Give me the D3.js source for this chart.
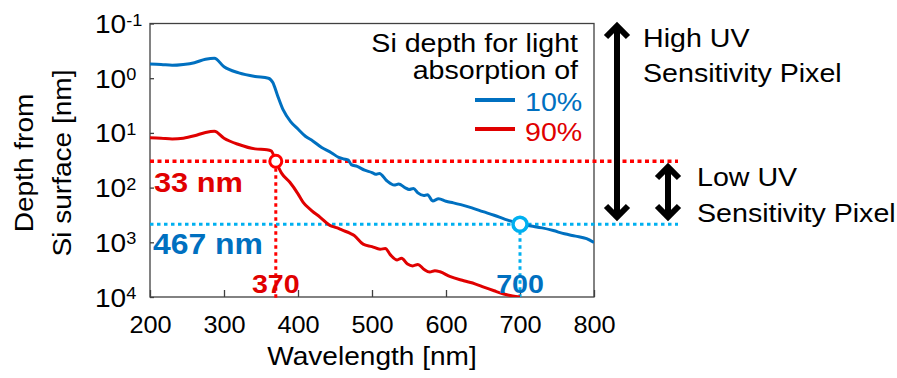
<!DOCTYPE html>
<html>
<head>
<meta charset="utf-8">
<script src="https://cdn.jsdelivr.net/npm/d3@7"></script>
<style>
  body { margin: 0; background: #fff; }
  text { font-family: Arial, "Liberation Sans", sans-serif; }
</style>
</head>
<body>
<div id="chart"></div>
<script>
// wavelength [nm] and depth [nm]
var wl10 = [200, 215, 230, 245, 260, 275, 287, 300, 320, 342, 360, 366, 372, 380, 390, 400, 410, 420, 432, 445, 455, 462, 468, 472, 480, 490, 500, 505, 510, 520, 530, 536, 545, 550, 556, 562, 570, 575, 582, 590, 600, 610, 620, 635, 650, 665, 680, 690, 700, 715, 730, 745, 760, 775, 790, 800];
var depth10 = [0.55, 0.56, 0.58, 0.56, 0.52, 0.45, 0.43, 0.62, 0.80, 0.93, 1.0, 1.2, 2.0, 3.8, 6.2, 8.5, 11.5, 14, 18.5, 23, 28, 30, 31.5, 38, 41, 48, 53, 57, 55, 75, 90, 86, 101, 108, 104, 125, 140, 135, 175, 160, 178, 190, 205, 235, 275, 320, 380, 420, 467, 505, 545, 610, 700, 770, 860, 1010];

var wl90 = [200, 215, 230, 245, 260, 275, 287, 300, 320, 342, 358, 364, 370, 378, 389, 400, 407, 418, 430, 443, 452, 460, 470, 476, 488, 500, 511, 518, 525, 534, 540, 548, 555, 562, 570, 578, 585, 592, 605, 624, 640, 651, 665, 678, 690, 700];
var depth90 = [12.3, 12.5, 12.9, 12.5, 11.3, 9.8, 9.3, 12.5, 16.3, 19.6, 20.3, 21.5, 33, 55, 80, 130, 186, 260, 349, 490, 540, 600, 680, 750, 1080, 1200, 1340, 1300, 1700, 2100, 1950, 2500, 2700, 2550, 3100, 3500, 3300, 3460, 4200, 5050, 5800, 6600, 7700, 8800, 9600, 10000];

var xTicks = [200, 300, 400, 500, 600, 700, 800];
var yTicks = [0.1, 1, 10, 100, 1000, 10000];
var yExp = ["-1", "0", "1", "2", "3", "4"];

var legendNames = ["10%", "90%"];
var marks = [{ wl: 370, depth: 33, label: "33 nm", tick: "370" },
             { wl: 700, depth: 467, label: "467 nm", tick: "700" }];

var width = 897, height = 378;
var pL = 150, pR = 594, pT = 23.5, pB = 297;
var SX = 1.1; // the original type is a little wide
var blue = "#0070C0", red = "#E00000", redDot = "#FF0000", blueDot = "#00B0F0";

var x = d3.scaleLinear().domain([200, 800]).range([pL, pR]);
var y = d3.scaleLog().domain([0.1, 10000]).range([pT, pB]);

var svg = d3.select("#chart").append("svg")
    .attr("width", width).attr("height", height);

function txt(px, py, s, size, fill, opts) {
    opts = opts || {};
    return svg.append("text")
        .attr("transform", `translate(${px},${py}) ${opts.rot ? "rotate(-90) " : ""}scale(${SX},1)`)
        .attr("text-anchor", opts.anchor || "start")
        .attr("font-weight", opts.bold ? "bold" : "normal")
        .style("font-size", size + "px")
        .attr("fill", fill || "#000")
        .text(s);
}

svg.append("defs").append("clipPath").attr("id", "clip")
    .append("rect").attr("x", pL).attr("y", pT)
    .attr("width", pR - pL).attr("height", pB - pT);

// axes
var xAxis = svg.append("g")
    .attr("transform", `translate(0,${pB})`)
    .call(d3.axisBottom(x).tickValues(xTicks).tickSize(-7).tickPadding(20));
xAxis.selectAll(".tick text")
    .style("font-size", "23px")
    .attr("fill", "#000")
    .attr("transform", `scale(${SX},1)`);

var yAxis = svg.append("g")
    .attr("transform", `translate(${pL},0)`)
    .call(d3.axisLeft(y).tickValues(yTicks).tickSize(-4));
yAxis.selectAll(".tick text").each(function (d, i) {
    var t = d3.select(this);
    t.text(null).attr("x", 0).attr("y", 0).attr("dy", null)
        .attr("text-anchor", "start")
        .attr("fill", "#000")
        .attr("transform", `translate(-55,9) scale(${SX},1)`);
    t.append("tspan").style("font-size", "25.5px").text("10");
    t.append("tspan").style("font-size", "16.5px").attr("dy", -7.5).text(yExp[i]);
});
svg.selectAll(".domain").remove();
svg.selectAll(".tick line").attr("stroke", "#404040").attr("stroke-width", 1.3);

svg.append("rect")
    .attr("x", pL).attr("y", pT)
    .attr("width", pR - pL).attr("height", pB - pT)
    .attr("fill", "none").attr("stroke", "#404040").attr("stroke-width", 1.3);

// guide lines
var dotEnd = 678;
svg.append("line")
    .attr("x1", pL).attr("x2", dotEnd)
    .attr("y1", y(marks[0].depth)).attr("y2", y(marks[0].depth))
    .attr("stroke", redDot).attr("stroke-width", 3.5).attr("stroke-dasharray", "4,3.5");
svg.append("line")
    .attr("x1", x(marks[0].wl)).attr("x2", x(marks[0].wl))
    .attr("y1", y(marks[0].depth)).attr("y2", pB + 1)
    .attr("stroke", redDot).attr("stroke-width", 3).attr("stroke-dasharray", "3.5,3.5");
svg.append("line")
    .attr("x1", pL).attr("x2", dotEnd)
    .attr("y1", y(marks[1].depth)).attr("y2", y(marks[1].depth))
    .attr("stroke", blueDot).attr("stroke-width", 3).attr("stroke-dasharray", "3.5,3.5");
svg.append("line")
    .attr("x1", x(marks[1].wl)).attr("x2", x(marks[1].wl))
    .attr("y1", y(marks[1].depth)).attr("y2", pB)
    .attr("stroke", blueDot).attr("stroke-width", 3).attr("stroke-dasharray", "3.5,3.5");

// curves
var line = d3.line().x(d => x(d[0])).y(d => y(d[1])).curve(d3.curveMonotoneX);
var plot = svg.append("g").attr("clip-path", "url(#clip)");
plot.append("path").datum(d3.zip(wl10, depth10))
    .attr("d", line).attr("fill", "none").attr("stroke", blue).attr("stroke-width", 3);
plot.append("path").datum(d3.zip(wl90, depth90))
    .attr("d", line).attr("fill", "none").attr("stroke", red).attr("stroke-width", 3);

// markers
svg.append("circle").attr("cx", x(marks[0].wl)).attr("cy", y(marks[0].depth)).attr("r", 6)
    .attr("fill", "#fff").attr("stroke", redDot).attr("stroke-width", 3);
svg.append("circle").attr("cx", x(marks[1].wl)).attr("cy", y(marks[1].depth)).attr("r", 7)
    .attr("fill", "#fff").attr("stroke", blueDot).attr("stroke-width", 3.5);

// annotations
txt(154, 192, marks[0].label, 28, red, { bold: true });
txt(153, 254, marks[1].label, 29, blue, { bold: true });
txt(x(marks[0].wl), 293, marks[0].tick, 26, red, { bold: true, anchor: "middle" });
txt(x(marks[1].wl), 293, marks[1].tick, 26, blue, { bold: true, anchor: "middle" });

// legend
txt(578, 52, "Si depth for light", 26, "#000", { anchor: "end" });
txt(578, 79, "absorption of", 26, "#000", { anchor: "end" });
svg.append("line").attr("x1", 475).attr("x2", 515).attr("y1", 100).attr("y2", 100)
    .attr("stroke", blue).attr("stroke-width", 4);
svg.append("line").attr("x1", 475).attr("x2", 515).attr("y1", 129).attr("y2", 129)
    .attr("stroke", red).attr("stroke-width", 4);
txt(525, 111, legendNames[0], 26, blue);
txt(525, 141, legendNames[1], 26, red);

// arrows on the right
function dblArrow(ax, y1, y2) {
    var g = svg.append("g").attr("fill", "none").attr("stroke", "#000")
        .attr("stroke-width", 6).attr("stroke-linejoin", "miter");
    g.append("line").attr("x1", ax).attr("x2", ax).attr("y1", y1 + 3).attr("y2", y2 - 3);
    g.append("polyline").attr("points", `${ax - 11},${y1 + 15} ${ax},${y1 + 4} ${ax + 11},${y1 + 15}`);
    g.append("polyline").attr("points", `${ax - 11},${y2 - 15} ${ax},${y2 - 4} ${ax + 11},${y2 - 15}`);
}
dblArrow(617, 22, 221);
dblArrow(668, 163, 221);

txt(643, 47, "High UV", 26);
txt(643, 82, "Sensitivity Pixel", 26);
txt(697, 186, "Low UV", 26);
txt(697, 222, "Sensitivity Pixel", 26);

// axis titles
txt((pL + pR) / 2, 365, "Wavelength [nm]", 25.5, "#000", { anchor: "middle" });
txt(33, 163, "Depth from", 25.5, "#000", { anchor: "middle", rot: true });
txt(71, 163, "Si surface [nm]", 25.5, "#000", { anchor: "middle", rot: true });
</script>
</body>
</html>
